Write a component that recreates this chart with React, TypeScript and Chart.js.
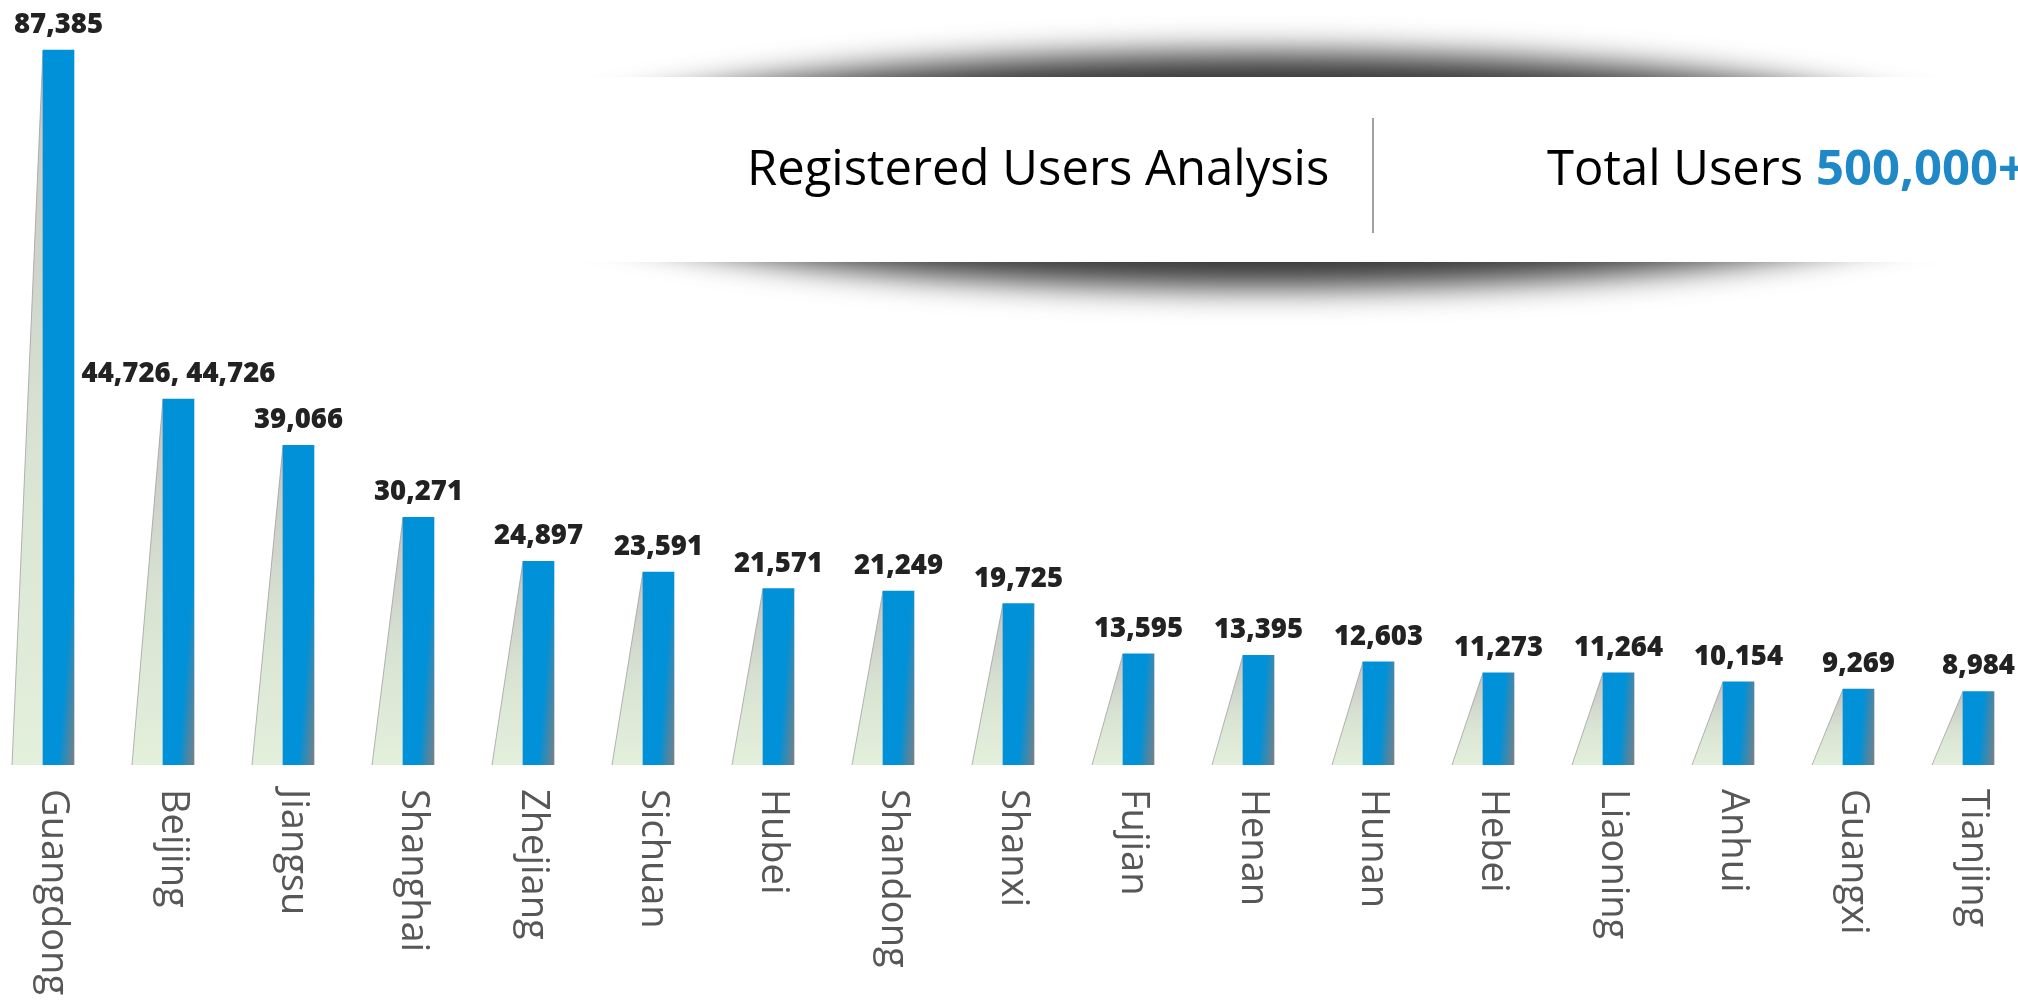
import React, { useEffect, useRef } from "react";
import { Chart, registerables } from "chart.js";

Chart.register(...registerables);

const provinces = [
  "Guangdong", "Beijing", "Jiangsu", "Shanghai", "Zhejiang", "Sichuan", "Hubei", "Shandong",
  "Shanxi", "Fujian", "Henan", "Hunan", "Hebei", "Liaoning", "Anhui", "Guangxi", "Tianjing",
];
const userCounts = [
  87385, 44726, 39066, 30271, 24897, 23591, 21571, 21249, 19725, 13595, 13395, 12603, 11273, 11264,
  10154, 9269, 8984,
];
const valueLabels = [
  "87,385", "44,726, 44,726", "39,066", "30,271", "24,897", "23,591", "21,571", "21,249", "19,725",
  "13,595", "13,395", "12,603", "11,273", "11,264", "10,154", "9,269", "8,984",
];
const titleText = "Registered Users Analysis";
const totalLabel = "Total Users";
const totalValue = "500,000+";
const yAxisMax = 93500;

const BAR_W = 31;

const decorPlugin = {
  id: "decor",
  beforeDatasetsDraw(chart: any) {
    const ctx = chart.ctx as CanvasRenderingContext2D;
    const meta = chart.getDatasetMeta(0);
    ctx.save();
    meta.data.forEach((el: any) => {
      const { x, y, base, width } = el.getProps(["x", "y", "base", "width"], true);
      const l = x - width / 2;
      const r = x + width / 2;
      const g = ctx.createLinearGradient(0, y, 0, base);
      g.addColorStop(0, "#c3c3c3");
      g.addColorStop(0.55, "#d9e3d3");
      g.addColorStop(1, "#e3f0db");
      ctx.beginPath();
      ctx.moveTo(l, base);
      ctx.lineTo(r, y);
      ctx.lineTo(r, base);
      ctx.closePath();
      ctx.fillStyle = g;
      ctx.fill();
      ctx.beginPath();
      ctx.moveTo(l, base);
      ctx.lineTo(r, y);
      ctx.strokeStyle = "rgba(150,150,150,0.7)";
      ctx.lineWidth = 1;
      ctx.stroke();
    });
    ctx.restore();
  },
  afterDatasetsDraw(chart: any) {
    const ctx = chart.ctx as CanvasRenderingContext2D;
    const meta = chart.getDatasetMeta(1);
    ctx.save();
    ctx.font = "800 27.5px 'Open Sans'";
    ctx.fillStyle = "#222222";
    ctx.textAlign = "center";
    ctx.textBaseline = "alphabetic";
    meta.data.forEach((el: any, i: number) => {
      const { x, y } = el.getProps(["x", "y"], true);
      ctx.fillText(valueLabels[i], x, y - 17);
    });
    const xs = chart.scales.x;
    const bottom = chart.chartArea.bottom;
    ctx.font = "38px 'Open Sans'";
    ctx.fillStyle = "#575757";
    ctx.textAlign = "left";
    provinces.forEach((p, i) => {
      const cx = xs.getPixelForTick(i);
      ctx.save();
      ctx.translate(cx - 1, bottom + 24);
      ctx.rotate(Math.PI / 2);
      ctx.fillText(p, 0, 0);
      ctx.restore();
    });
    ctx.restore();
  },
};

export default function App() {
  const ref = useRef<HTMLCanvasElement>(null);
  useEffect(() => {
    document.body.style.margin = "0";
    const chart = new Chart(ref.current as HTMLCanvasElement, {
      type: "bar",
      data: {
        labels: provinces,
        datasets: [
          {
            label: "shadow",
            data: userCounts,
            backgroundColor: "rgba(0,0,0,0)",
            borderWidth: 0,
            barThickness: BAR_W,
          },
          {
            label: "users",
            data: userCounts,
            borderWidth: 0,
            barThickness: BAR_W,
            backgroundColor: (c: any) => {
              const chart = c.chart;
              const xs = chart.scales?.x;
              const ys = chart.scales?.y;
              if (!chart.chartArea || !xs || !ys || c.dataIndex === undefined) return "#0091d8";
              const left = xs.getPixelForValue(c.dataIndex);
              const base = ys.getPixelForValue(0);
              const g = chart.ctx.createLinearGradient(left + 15, base, left + BAR_W, base + 1.25);
              g.addColorStop(0, "#0091d8");
              g.addColorStop(1, "#7b7f84");
              return g;
            },
          },
        ],
      },
      options: {
        responsive: false,
        animation: false,
        devicePixelRatio: 1,
        layout: { padding: 0 },
        plugins: { legend: { display: false }, tooltip: { enabled: false } },
        scales: {
          x: {
            grid: { display: false },
            border: { display: false },
            ticks: { display: false },
            afterFit: (s: any) => {
              s.height = 238;
            },
          },
          y: { display: false, min: 0, max: yAxisMax },
        },
      },
      plugins: [decorPlugin],
    });
    return () => chart.destroy();
  }, []);

  return (
    <div
      style={{
        position: "absolute",
        left: 0,
        top: 0,
        width: 2018,
        height: 1003,
        overflow: "hidden",
        background: "#fff",
      }}
    >
      <canvas
        ref={ref}
        width={2040}
        height={1003}
        style={{ position: "absolute", left: -17, top: 0, width: 2040, height: 1003 }}
      />
      <div
        style={{
          position: "absolute",
          left: 502,
          top: 53,
          width: 1520,
          height: 234,
          borderRadius: "50%",
          background: "#363636",
          filter: "blur(16px)",
        }}
      />
      <div
        style={{ position: "absolute", left: 250, top: 77, width: 1768, height: 185, background: "#fff" }}
      />
      <div
        style={{
          position: "absolute",
          left: 747,
          top: 141.5,
          font: "49px 'Open Sans'",
          lineHeight: "49px",
          whiteSpace: "nowrap",
          color: "#000",
        }}
      >
        {titleText}
      </div>
      <div style={{ position: "absolute", left: 1372, top: 118, width: 2, height: 115, background: "#a0a0a0" }} />
      <div
        style={{
          position: "absolute",
          left: 1547,
          top: 141.5,
          font: "49px 'Open Sans'",
          lineHeight: "49px",
          whiteSpace: "nowrap",
          color: "#000",
        }}
      >
        {totalLabel} <span style={{ fontWeight: 700, color: "#1f88c6" }}>{totalValue}</span>
      </div>
    </div>
  );
}
